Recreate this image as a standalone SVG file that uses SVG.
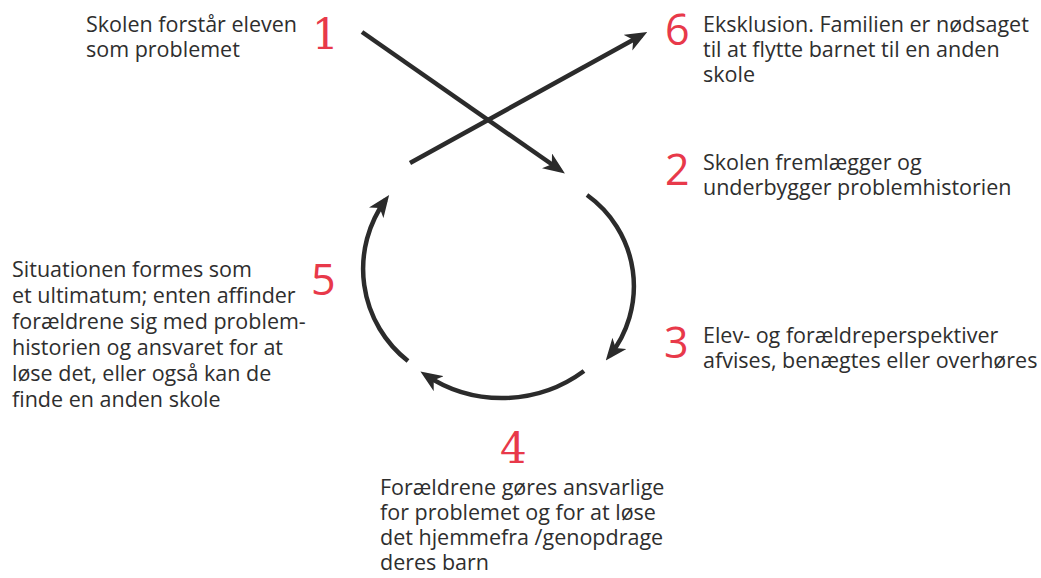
<svg xmlns="http://www.w3.org/2000/svg" width="1041" height="578" viewBox="0 0 1041 578">
<style>
.t{font-family:"Open Sans","Liberation Sans",sans-serif;font-size:21.5px;fill:#2e2e2e}
.n{font-family:"Open Sans","Liberation Sans",sans-serif;font-size:43px;fill:#e8394a}
.ns{font-family:"DejaVu Serif","Liberation Serif",serif;font-size:42px;fill:#e8394a}
.c{fill:none;stroke:#2b2b2b;stroke-width:4.5;marker-end:url(#ah)}
</style>
<defs>
<marker id="ah" markerUnits="userSpaceOnUse" viewBox="0 0 22 18" refX="16" refY="9" markerWidth="22" markerHeight="18" orient="auto">
<path d="M0,0 L22,9 L0,18 L6,9 z" fill="#2b2b2b"/>
</marker>
</defs>
<rect width="1041" height="578" fill="#ffffff"/>
<g id="connectors">
<path class="c" d="M362,32 L560,170"/>
<path class="c" d="M410,163 L642,35"/>
<path class="c" d="M587,195 A112,112 0 0 1 609.5,355.9"/>
<path class="c" d="M584,371 A138,138 0 0 1 425.4,374.8"/>
<path class="c" d="M408,361 A117,117 0 0 1 385.6,199.9"/>
</g>
<g id="node1">
<text class="ns" x="312" y="49">1</text>
<text class="t" x="86" y="32"><tspan x="86">Skolen forstår eleven</tspan><tspan x="86" y="57">som problemet</tspan></text>
</g>
<g id="node2">
<text class="n" x="665" y="185">2</text>
<text class="t" x="703" y="170"><tspan x="703">Skolen fremlægger og</tspan><tspan x="703" y="195">underbygger problemhistorien</tspan></text>
</g>
<g id="node3">
<text class="n" x="664" y="358">3</text>
<text class="t" x="703" y="343"><tspan x="703">Elev- og forældreperspektiver</tspan><tspan x="703" y="368">afvises, benægtes eller overhøres</tspan></text>
</g>
<g id="node4">
<text class="ns" x="500" y="463">4</text>
<text class="t" x="380" y="495"><tspan x="380">Forældrene gøres ansvarlige</tspan><tspan x="380" y="520">for problemet og for at løse</tspan><tspan x="380" y="545">det hjemmefra /genopdrage</tspan><tspan x="380" y="570">deres barn</tspan></text>
</g>
<g id="node5">
<text class="n" x="311" y="295">5</text>
<text class="t" x="12" y="277"><tspan x="12">Situationen formes som</tspan><tspan x="12" y="303">et ultimatum; enten affinder</tspan><tspan x="12" y="329">forældrene sig med problem-</tspan><tspan x="12" y="355">historien og ansvaret for at</tspan><tspan x="12" y="381">løse det, eller også kan de</tspan><tspan x="12" y="407">finde en anden skole</tspan></text>
</g>
<g id="node6">
<text class="n" x="665" y="45">6</text>
<text class="t" x="703" y="32"><tspan x="703">Eksklusion. Familien er nødsaget</tspan><tspan x="703" y="57">til at flytte barnet til en anden</tspan><tspan x="703" y="82">skole</tspan></text>
</g>
</svg>
